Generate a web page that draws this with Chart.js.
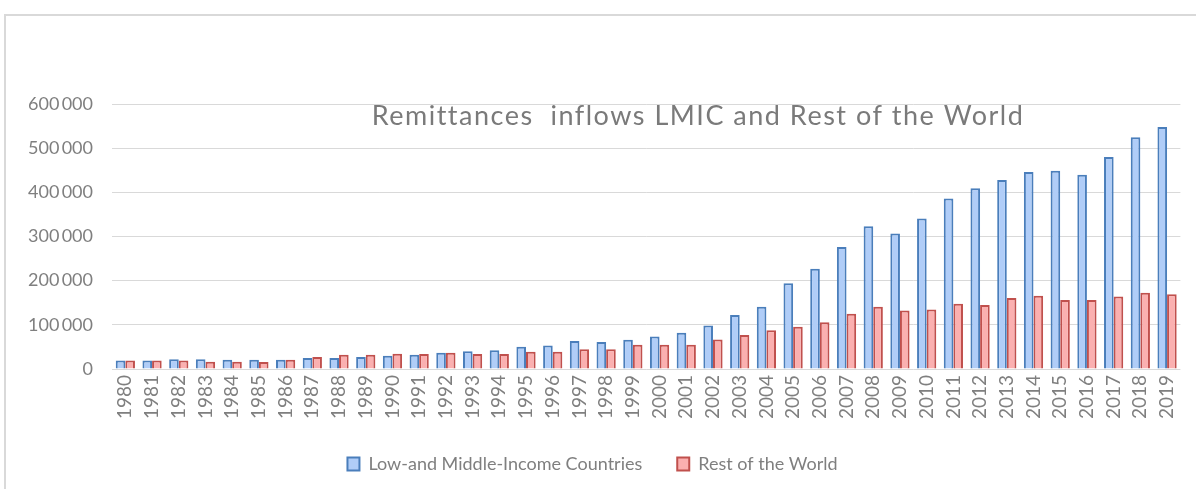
<!DOCTYPE html>
<html>
<head>
<meta charset="utf-8">
<script src="https://cdn.jsdelivr.net/npm/chart.js@4"></script>
<style>
  html, body { margin: 0; padding: 0; background: #fff; overflow: hidden; }
  #wrap { position: relative; width: 1196px; height: 489px; }
  #frame { position: absolute; left: 4px; top: 14px; width: 1400px; height: 700px; border: 2px solid #d9d9d9; box-sizing: border-box; }
  canvas { position: absolute; left: 0; top: 0; }
</style>
</head>
<body>
<div id="wrap">
  <div id="frame"></div>
  <canvas id="c" width="1196" height="489"></canvas>
</div>
<script>
const years = ['1980','1981','1982','1983','1984','1985','1986','1987','1988','1989',
  '1990','1991','1992','1993','1994','1995','1996','1997','1998','1999',
  '2000','2001','2002','2003','2004','2005','2006','2007','2008','2009',
  '2010','2011','2012','2013','2014','2015','2016','2017','2018','2019'];
const lmic = [19000,19000,22000,22000,21000,21000,21000,25000,25000,27000,
  30000,32000,37000,40000,42500,50500,53000,63500,61000,66500,
  73500,82000,98500,122000,141000,194000,227000,276000,323000,307000,
  341000,386000,409000,428000,446000,449000,440000,480000,525000,548000];
const rest = [19000,19000,19000,16500,16500,16000,21000,27000,32500,32500,
  34500,34000,37000,34000,34000,39000,39000,44700,44700,55000,
  55000,55000,66600,77000,87700,95500,106000,125000,141000,132500,
  135000,148000,145000,161000,166000,156000,156000,164000,172500,169000];
const seriesNames = ['Low-and Middle-Income Countries', 'Rest of the World'];
const chartTitle = 'Remittances  inflows LMIC and Rest of the World';
const yMax = 600000;
const yStep = 100000;

const fmt = v => String(v).replace(/\B(?=(\d{3})+(?!\d))/g, '\u2009');

const titlePlugin = {
  id: 'innerTitle',
  afterDatasetsDraw(chart) {
    const ctx = chart.ctx;
    ctx.save();
    ctx.font = '27px Lato';
    try { ctx.letterSpacing = '1.5px'; } catch (e) {}
    ctx.fillStyle = '#7a7a7a';
    ctx.textAlign = 'center';
    ctx.textBaseline = 'alphabetic';
    ctx.fillText(chartTitle, 698, 125);
    ctx.restore();
  }
};

new Chart(document.getElementById('c'), {
  type: 'bar',
  data: {
    labels: years,
    datasets: [
      { label: seriesNames[0], data: lmic, backgroundColor: '#b0cdf8', borderColor: '#4a7ebb', borderWidth: 2, borderSkipped: 'bottom' },
      { label: seriesNames[1], data: rest, backgroundColor: '#fbb0b0', borderColor: '#c0504d', borderWidth: 2, borderSkipped: 'bottom' }
    ]
  },
  options: {
    responsive: false,
    animation: false,
    devicePixelRatio: 1,
    layout: { padding: { left: 0, right: 11, top: 104, bottom: 6 } },
    datasets: { bar: { categoryPercentage: 0.72, barPercentage: 1.0 } },
    plugins: {
      title: { display: false },
      tooltip: { enabled: false },
      legend: {
        position: 'bottom',
        labels: {
          font: { family: 'Lato', size: 18 },
          color: '#7f7f7f',
          boxWidth: 12,
          boxHeight: 13,
          padding: 35
        }
      }
    },
    scales: {
      x: {
        grid: { display: false, drawTicks: false },
        border: { display: false },
        ticks: {
          font: { family: 'Lato', size: 19 },
          color: '#7f7f7f',
          minRotation: 90, maxRotation: 90,
          autoSkip: false,
          padding: 6
        },
        afterFit(scale) { scale.height = 51; }
      },
      y: {
        min: 0, max: yMax,
        grid: { color: '#d9d9d9', lineWidth: 1, drawTicks: false },
        border: { display: false },
        ticks: {
          stepSize: yStep,
          font: { family: 'Lato', size: 18 },
          color: '#7f7f7f',
          padding: 19,
          callback: v => fmt(v)
        },
        afterFit(scale) { scale.width = 112; }
      }
    }
  },
  plugins: [titlePlugin]
});
</script>
</body>
</html>
